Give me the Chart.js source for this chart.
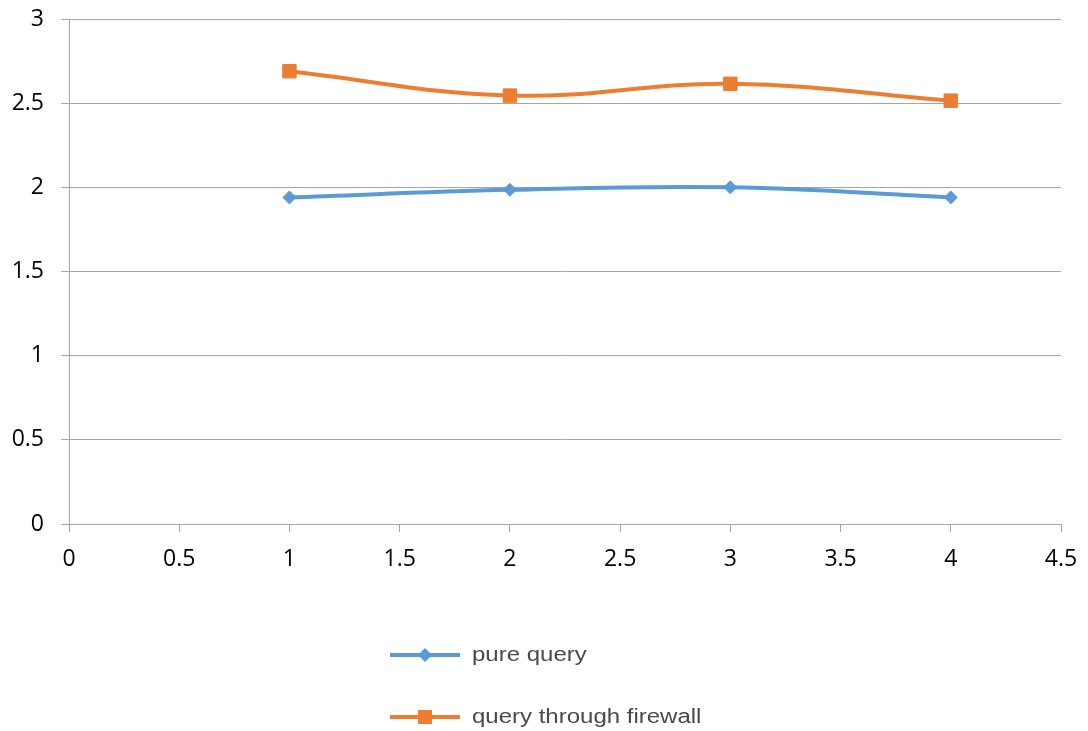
<!DOCTYPE html>
<html>
<head>
<meta charset="utf-8">
<script src="https://cdn.jsdelivr.net/npm/chart.js@4/dist/chart.umd.min.js"></script>
<style>
  html, body { margin: 0; padding: 0; background: #fff; }
  #wrap { width: 1088px; height: 731px; position: relative; }
</style>
</head>
<body>
<div id="wrap"><canvas id="c" width="1088" height="731"></canvas></div>
<script>
// Run number (x) and response time for each series
const runs = [1, 2, 3, 4];
const pureQuery = [1.94, 1.985, 2.0, 1.94];
const queryThroughFirewall = [2.69, 2.545, 2.615, 2.515];
const seriesNames = ['pure query', 'query through firewall'];

const blue = '#5B9BD5';
const orange = '#ED7D31';
const gridGray = '#A6A6A6';
const tickFont = { family: '"Open Sans", sans-serif', size: 23 };
const plainNumber = v => String(Number(v));

function toPoints(ys) {
  return runs.map((x, i) => ({ x: x, y: ys[i] }));
}

// Vertical legend drawn below the plot: line + marker + label
const stackedLegend = {
  id: 'stackedLegend',
  afterDraw(chart) {
    const ctx = chart.ctx;
    const items = chart.data.datasets;
    const x0 = 390, x1 = 460, textX = 472;
    const rows = [655, 717];
    items.forEach((ds, i) => {
      const y = rows[i];
      const cx = (x0 + x1) / 2;
      ctx.save();
      ctx.strokeStyle = ds.borderColor;
      ctx.lineWidth = 4;
      ctx.beginPath();
      ctx.moveTo(x0, y);
      ctx.lineTo(x1, y);
      ctx.stroke();
      ctx.fillStyle = ds.pointBackgroundColor;
      ctx.beginPath();
      if (ds.pointStyle === 'rect') {
        ctx.rect(cx - 7, y - 7, 14, 14);
      } else {
        ctx.moveTo(cx - 7, y); ctx.lineTo(cx, y - 7);
        ctx.lineTo(cx + 7, y); ctx.lineTo(cx, y + 7);
        ctx.closePath();
      }
      ctx.fill();
      ctx.restore();

      ctx.save();
      ctx.translate(textX, y);
      ctx.scale(1.2, 1);
      ctx.fillStyle = '#4a4a4a';
      ctx.font = '20px "Liberation Sans", Arial, sans-serif';
      ctx.textBaseline = 'middle';
      ctx.fillText(seriesNames[i], 0, 0);
      ctx.restore();
    });
  }
};

new Chart(document.getElementById('c'), {
  type: 'line',
  data: {
    datasets: [
      {
        label: seriesNames[0],
        data: toPoints(pureQuery),
        borderColor: blue,
        backgroundColor: blue,
        pointBackgroundColor: blue,
        pointBorderColor: blue,
        borderWidth: 4,
        pointStyle: 'rectRot',
        pointRadius: 6.5,
        pointBorderWidth: 1,
        tension: 0.4,
        fill: false
      },
      {
        label: seriesNames[1],
        data: toPoints(queryThroughFirewall),
        borderColor: orange,
        backgroundColor: orange,
        pointBackgroundColor: orange,
        pointBorderColor: orange,
        borderWidth: 4,
        pointStyle: 'rect',
        pointRadius: 9.5,
        pointBorderWidth: 1,
        tension: 0.4,
        fill: false
      }
    ]
  },
  options: {
    responsive: false,
    animation: false,
    events: [],
    layout: { padding: { top: 19, right: 27, left: 0, bottom: 160 } },
    plugins: {
      legend: { display: false },
      tooltip: { enabled: false }
    },
    scales: {
      x: {
        type: 'linear',
        min: 0,
        max: 4.5,
        ticks: { stepSize: 0.5, color: '#000', font: tickFont, padding: 14, maxRotation: 0, callback: plainNumber },
        grid: { drawOnChartArea: false, drawTicks: true, tickLength: 8, color: gridGray, lineWidth: 1 },
        border: { color: gridGray, width: 1 },
        afterFit(s) { s.height = 47; s.paddingLeft = 0; s.paddingRight = 0; }
      },
      y: {
        type: 'linear',
        min: 0,
        max: 3,
        ticks: { stepSize: 0.5, color: '#000', font: tickFont, padding: 17, callback: plainNumber },
        grid: { color: gridGray, lineWidth: 1, tickLength: 8 },
        border: { color: gridGray, width: 1 },
        afterFit(s) { s.width = 69; s.paddingTop = 0; s.paddingBottom = 0; }
      }
    }
  },
  plugins: [stackedLegend]
});
</script>
</body>
</html>
